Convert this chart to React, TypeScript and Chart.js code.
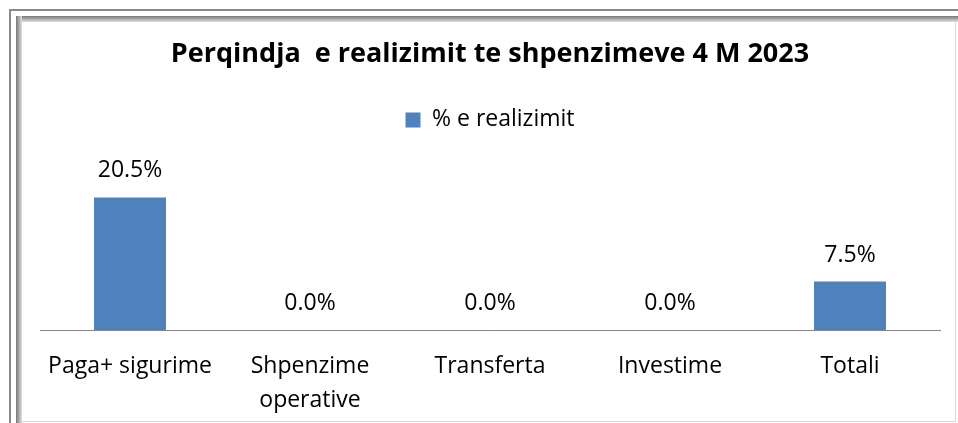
import React, { useEffect, useRef } from "react";
import { Chart, registerables } from "chart.js";

Chart.register(...registerables);

const categories: (string | string[])[] = [
  "Paga+ sigurime",
  ["Shpenzime", "operative"],
  "Transferta",
  "Investime",
  "Totali",
];
const realizimi: number[] = [20.5, 0.0, 0.0, 0.0, 7.5];
const seriesLabel = "% e realizimit";
const titleText = "Perqindja  e realizimit te shpenzimeve 4 M 2023";

const FONT = "'Open Sans', sans-serif";

const valueLabels = {
  id: "valueLabels",
  afterDatasetsDraw(chart: any) {
    const ctx = chart.ctx;
    ctx.save();
    ctx.font = `23px ${FONT}`;
    ctx.fillStyle = "#000";
    ctx.textAlign = "center";
    ctx.textBaseline = "alphabetic";
    chart.data.datasets.forEach((ds: any, di: number) => {
      const meta = chart.getDatasetMeta(di);
      meta.data.forEach((bar: any, i: number) => {
        const v = ds.data[i] as number;
        ctx.fillText(v.toFixed(1) + "%", bar.x, bar.y - 20);
      });
    });
    ctx.restore();
  },
};

export default function App() {
  const ref = useRef<HTMLCanvasElement>(null);
  useEffect(() => {
    if (!ref.current) return;
    const chart = new Chart(ref.current, {
      type: "bar",
      data: {
        labels: categories,
        datasets: [
          {
            label: seriesLabel,
            data: realizimi,
            backgroundColor: "#4F81BD",
            borderWidth: 0,
            barPercentage: 0.4,
            categoryPercentage: 1,
          },
        ],
      },
      options: {
        responsive: false,
        animation: false,
        layout: { padding: { left: 40, right: 18, top: 0, bottom: 0 } },
        plugins: {
          title: {
            display: true,
            text: titleText,
            color: "#000",
            font: { family: FONT, size: 27, weight: "bold", lineHeight: 1.2 },
            padding: { top: 38, bottom: 0 },
          },
          subtitle: {
            display: true,
            text: "",
            weight: 500,
            font: { size: 10, lineHeight: 1 },
            padding: { top: 0, bottom: 17 },
          },
          legend: {
            display: true,
            labels: {
              color: "#000",
              font: { family: FONT, size: 23 },
              boxWidth: 15,
              boxHeight: 15,
              padding: 38,
            },
          },
          tooltip: { enabled: false },
        },
        scales: {
          x: {
            grid: { display: false, drawTicks: false },
            border: { display: true, color: "#868686", width: 1 },
            ticks: {
              color: "#000",
              font: { family: FONT, size: 23, lineHeight: 1.48 },
              padding: 19,
              maxRotation: 0,
              autoSkip: false,
            },
            afterFit(scale: any) {
              scale.height = 93;
            },
          },
          y: {
            display: false,
            min: 0,
            max: 25,
          },
        },
      } as any,
      plugins: [valueLabels],
    });
    return () => chart.destroy();
  }, []);

  return (
    <div style={{ position: "absolute", left: 0, top: 0, width: 958, height: 423, background: "#fff", overflow: "hidden" }}>
      <div style={{ position: "absolute", left: 9, top: 9, width: 960, height: 2, background: "#8a8a8a" }} />
      <div style={{ position: "absolute", left: 9, top: 9, width: 2, height: 430, background: "#8a8a8a" }} />
      <div
        style={{
          position: "absolute",
          left: 16,
          top: 16,
          width: 960,
          height: 6,
          background: "linear-gradient(to bottom, #777, #aaa 50%, #e0e0e0)",
        }}
      />
      <div
        style={{
          position: "absolute",
          left: 16,
          top: 16,
          width: 6,
          height: 430,
          background: "linear-gradient(to right, #777, #aaa 50%, #e0e0e0)",
        }}
      />
      <div style={{ position: "absolute", left: 955, top: 22, width: 1, height: 400, background: "#d8d8d8" }} />
      <div style={{ position: "absolute", left: 22, top: 421, width: 934, height: 1, background: "#d8d8d8" }} />
      <canvas ref={ref} width={958} height={423} style={{ position: "absolute", left: 0, top: 0 }} />
    </div>
  );
}
